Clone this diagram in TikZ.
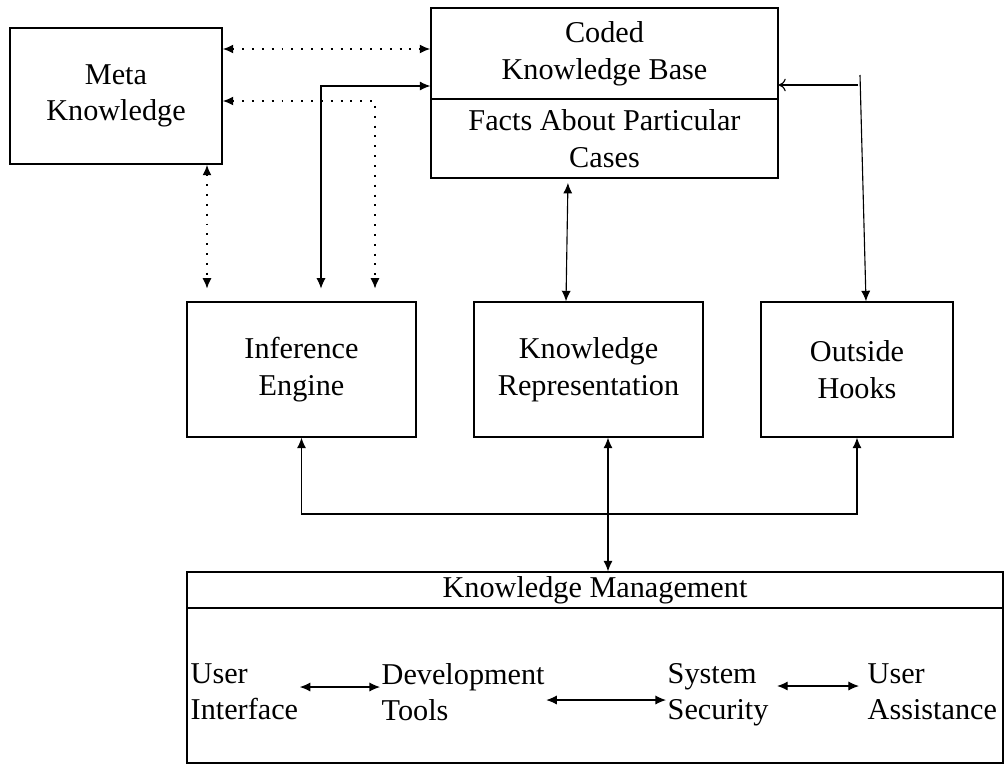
\documentclass[tikz,border=0pt]{standalone}
\usepackage{fontspec}
\setmainfont{Liberation Serif}
\usepackage{tikz}
\usetikzlibrary{arrows.meta, positioning}

\tikzset{
  box/.style={draw, line width=0.9pt, inner sep=0pt, align=center,
    font=\fontsize{21.5}{26}\selectfont},
  item/.style={inner sep=1pt, align=left, anchor=west,
    font=\fontsize{21.5}{25.5}\selectfont},
  link/.style={line width=0.8pt},
  dotlink/.style={line width=1.3pt, dash pattern=on 1.4pt off 5.6pt},
}

\begin{document}
\begin{tikzpicture}[x=0.025cm, y=-0.025cm, >={Latex[length=7.5pt,width=6.5pt]}]
\useasboundingbox (0,0) rectangle (1005,764);

% top row
\node[box, minimum width=5.3cm, minimum height=3.4cm] (meta) at (116,96) {Meta\\Knowledge};
\node[box, minimum width=8.675cm, minimum height=2.275cm] (coded) at (604.5,53.5) {Coded\\Knowledge Base};
\node[box, minimum width=8.675cm, minimum height=1.975cm] (facts) at (604.5,138.5) {Facts About Particular\\Cases};

% middle row
\node[box, minimum width=5.725cm, minimum height=3.375cm] (inf) at (301.5,369.5) {Inference\\Engine};
\node[box, minimum width=5.725cm, minimum height=3.375cm] (kr) at (588.5,369.5) {Knowledge\\Representation};
\node[box, minimum width=4.8cm, minimum height=3.375cm] (hooks) at (857,369.5) {Outside\\Hooks};

% knowledge management
\node[box, minimum width=20.4cm, minimum height=0.9cm] (kmhead) at (595,590) {Knowledge Management};
\node[box, minimum width=20.4cm, minimum height=3.875cm] (kmbody) at (595,685.5) {};
\node[item] (ui) at (189,692) {User\\Interface};
\node[item] (dev) at (380,692) {Development\\Tools};
\node[item] (sys) at (666,695) {System\\Security};
\node[item] (ua) at (866,692) {User\\Assistance};

\coordinate (hk) at (858,85);
\coordinate (ht) at (860,75);

% connectors
\draw[dotlink, <->] (meta.east |- 0,49) -- (coded.west |- 0,49);
\draw[dotlink, <->, shorten >=9pt] (meta.east |- 0,101) -| (inf.north -| 375,0);
\draw[link, <->, shorten <=9pt] (inf.north -| 321,0) |- (coded.west |- 0,86);
\draw[dotlink, <->, shorten >=9pt] (meta.south -| 207,0) -- (inf.north -| 207,0);
\draw[link, <->, shorten <=3pt] (facts.south -| 568,0) -- (kr.north -| 566,0);
\draw[link, -{To[length=5pt,width=9pt]}] (hk) -- (hk -| coded.east);
\draw[link, ->] (ht) -- (hooks.north -| 866,0);
\draw[link, <->] (inf.south) -- (inf.south |- 0,514) -| (hooks.south);
\draw[link, <->] (kr.south -| 608,0) -- (kmhead.north -| 608,0);
\draw[link, <->] (ui.east |- 0,687) -- (dev.west |- 0,687);
\draw[link, <->] (dev.east |- 0,700) -- (sys.west |- 0,700);
\draw[link, <->, shorten <=5pt, shorten >=5pt] (sys.east |- 0,686) -- (ua.west |- 0,686);
\end{tikzpicture}
\end{document}
